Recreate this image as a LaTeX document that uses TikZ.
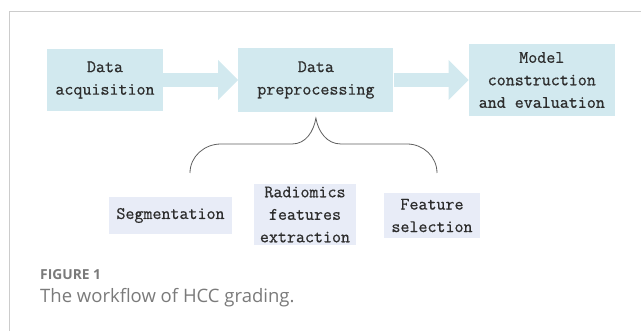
\documentclass[tikz,border=0pt]{standalone}
\usepackage{fontspec}
\newfontfamily\captionfont{Open Sans}
\newfontfamily\boxfont[FakeBold=0.7]{Latin Modern Mono}
\usetikzlibrary{arrows.meta, positioning, calc}
\definecolor{stepblue}{RGB}{210, 233, 239}
\definecolor{subviolet}{RGB}{232, 236, 247}
\definecolor{bracegray}{RGB}{95, 95, 95}
\definecolor{framegray}{RGB}{204, 204, 204}
\definecolor{captiongray}{RGB}{122, 122, 122}
\definecolor{textdark}{RGB}{45, 45, 45}
\tikzset{
  >=Stealth,
  flowarrow/.style={line width=14pt, stepblue, -{Triangle[length=20pt, width=40pt, line width=0pt]}},
  bracecurve/.style={draw=bracegray, line width=0.8pt}
}

\begin{document}
\begin{tikzpicture}[
    x=1pt, y=-1pt,
    stepbox/.style={rectangle, fill=stepblue, inner sep=0pt, align=center, text=textdark, font=\boxfont\fontsize{17.5}{22.5}\selectfont},
    subbox/.style={stepbox, fill=subviolet}
]
    \useasboundingbox (0, 0) rectangle (641, 331);
    % frame
    \draw[framegray, line width=0.9pt] (9.5, 331) -- (9.5, 11) -- (641, 11);

    % main steps
    \node[stepbox, minimum width=116pt, minimum height=62pt] (acq) at (105, 80) {Data\\acquisition};
    \node[stepbox, minimum width=155pt, minimum height=64pt, right=75pt of acq] (pre) {Data\\preprocessing};
    \node[stepbox, minimum width=146pt, minimum height=72pt, right=75pt of pre] (model) {Model\\construction\\and evaluation};

    \draw[flowarrow] (acq) -- (pre);
    \draw[flowarrow] (pre) -- (model);

    % preprocessing sub-steps
    \node[subbox, minimum width=123pt, minimum height=37pt] (seg) at (170.5, 215.5) {Segmentation};
    \node[subbox, minimum width=102pt, minimum height=61pt] (rad) at (305, 214.5) {Radiomics\\features\\extraction};
    \node[subbox, minimum width=96pt, minimum height=45pt] (sel) at (432, 215.5) {Feature\\selection};

    % brace under preprocessing
    \coordinate (tip) at ($(pre.south)+(0, 6)$);
    \draw[bracecurve] (190, 173) to[out=90, in=180] (221, 144) -- (292, 144)
        to[out=0, in=-100] (tip) to[out=-80, in=180] (341, 144) -- (407, 144)
        to[out=0, in=90] (437, 173);

    % caption
    \node[anchor=base west, inner sep=0pt, text=captiongray, font=\captionfont\bfseries\fontsize{13.8}{16}\selectfont] (fig) at (40, 280) {FIGURE 1};
    \node[anchor=base west, inner sep=0pt, text=captiongray, font=\captionfont\fontsize{18.5}{22}\selectfont] (cap) at (40, 303) {The workflow of HCC grading.};
\end{tikzpicture}
\end{document}
